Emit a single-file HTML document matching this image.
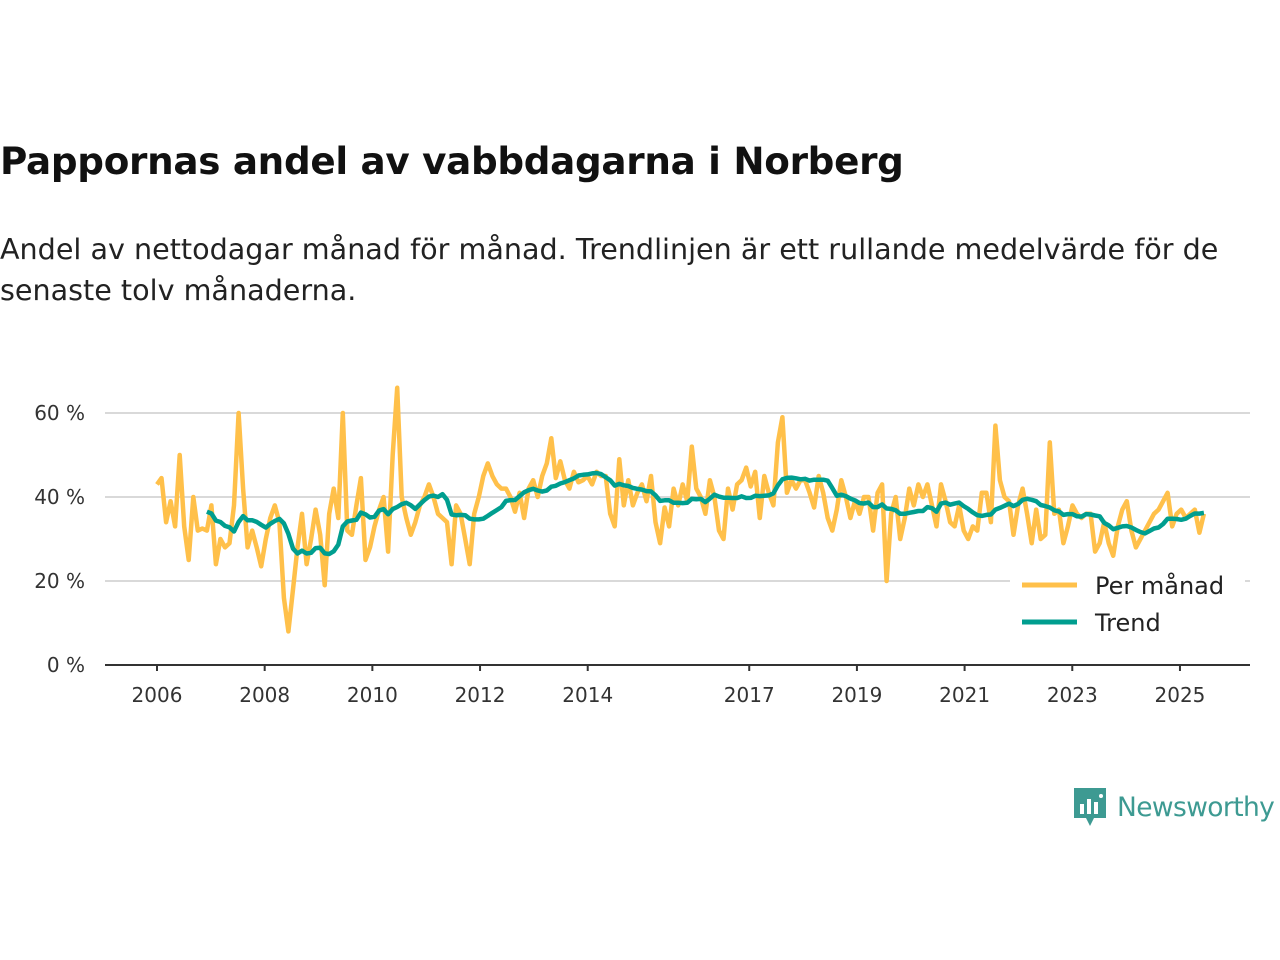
<!DOCTYPE html>
<html><head><meta charset="utf-8">
<style>
body{margin:0;width:1280px;height:960px;background:#fff;font-family:"Liberation Sans","DejaVu Sans",sans-serif;overflow:hidden;position:relative}
h1{position:absolute;left:0;top:139px;margin:0;font-size:37.3px;font-weight:bold;color:#111;font-family:"DejaVu Sans","Liberation Sans",sans-serif;letter-spacing:-0.3px}
.sub{position:absolute;left:0;top:229px;margin:0;font-size:28.6px;line-height:41px;color:#222;font-family:"DejaVu Sans","Liberation Sans",sans-serif;width:1270px}
</style></head><body>
<h1>Pappornas andel av vabbdagarna i Norberg</h1>
<p class="sub">Andel av nettodagar månad för månad. Trendlinjen är ett rullande medelvärde för de senaste tolv månaderna.</p>
<svg id="chart" width="1280" height="960" style="position:absolute;left:0;top:0" font-family="DejaVu Sans, Liberation Sans, sans-serif"></svg>
<div style="position:absolute;left:1072px;top:786px;display:flex;align-items:center">
<svg width="36" height="42"><path d="M2 2h32v30H22l-4 8-4-8H2z" fill="#3d9a92"/><rect x="8" y="18" width="4" height="10" fill="#fff"/><rect x="15" y="13" width="4" height="15" fill="#fff"/><rect x="22" y="16" width="4" height="12" fill="#fff"/><circle cx="29" cy="10" r="2" fill="#fff"/></svg>
<span style="font-size:26.5px;color:#3d9a92;font-family:'DejaVu Sans',sans-serif;margin-left:9px;letter-spacing:-0.6px">Newsworthy</span></div>
<script>
const tickYears=[2006,2008,2010,2012,2014,2017,2019,2021,2023,2025];
const yTicks=[0,20,40,60];
const startYear=2006;
const monthly=[
43,44.5,34,39,33,50,33,25,40,32,32.5,32,
38,24,30,28,29,38,60,42,28,32,28,23.5,
30,35,38,34,16,8,18,28,36,24,30,37,
31,19,36,42,35,60,32,31,38,44.5,25,28,
33,37,40,27,50,66,40,35,31,34,38,40,
43,40,36,35,34,24,38,36,30,24,36,40,
45,48,45,43,42,42,40,36.5,41,35,42,44,
40,45,48,54,44.5,48.5,44,42,46,43.5,44,45,
43,46,45,45,36,33,49,38,44,38,41,43,
39,45,34,29,37.5,33,42,38,43,39,52,42,
40,36,44,40,32,30,42,37,43,44,47,42.5,
46,35,45,41,38,53,59,41,44,42,44,44,
41,37.5,45,41,35,32,37,44,40,35,39,36,
40,40,32,41,43,20,36,40,30,35,42,38,
43,40,43,38,33,43,39,34,33,38,32,30,
33,32,41,41,34,57,44,40,39,31,38,42,
36,29,37,30,31,53,36,37,29,33,38,36,
35,36,36,27,29,34,29,26,33,37,39,32,
28,30,32,34,36,37,39,41,33,36,37,35,
36,37,31.5,36];
const svg=document.getElementById('chart');
const NS='http://www.w3.org/2000/svg';
const xS=y=>157+(y-2006)*53.84;
const yS=v=>665-v*4.2;
function mk(t,a,p){const e=document.createElementNS(NS,t);for(const k in a)e.setAttribute(k,a[k]);(p||svg).appendChild(e);return e;}
yTicks.forEach(v=>{
 if(v>0){const g=mk('line',{x1:105,x2:1250,y1:yS(v),y2:yS(v),stroke:'#d9d9d9','stroke-width':2});
 
 }
 const t=mk('text',{x:85,y:yS(v)+7,'text-anchor':'end','font-size':20,fill:'#333'});t.textContent=v+' %';
 
 
});
const ax=mk('line',{x1:105,x2:1250,y1:665,y2:665,stroke:'#333','stroke-width':2});


tickYears.forEach(y=>{
 const tk=mk('line',{x1:xS(y),x2:xS(y),y1:665,y2:671,stroke:'#333','stroke-width':2});
 
 
 const t=mk('text',{x:xS(y),y:702,'text-anchor':'middle','font-size':20,fill:'#333'});t.textContent=y;
 
 
});
const mx=i=>xS(startYear+i/11.88);
const p1=monthly.map((v,i)=>(i?'L':'M')+mx(i).toFixed(1)+' '+yS(v).toFixed(1)).join(' ');
const l1=mk('path',{d:p1,fill:'none',stroke:'#ffc04a','stroke-width':4.5,'stroke-linejoin':'round'});


let pts=[];
for(let i=11;i<monthly.length;i++){let s=0;for(let j=i-11;j<=i;j++)s+=monthly[j];pts.push((pts.length?'L':'M')+mx(i).toFixed(1)+' '+yS(s/12).toFixed(1));}
const l2=mk('path',{d:pts.join(' '),fill:'none',stroke:'#009e8f','stroke-width':4.5,'stroke-linejoin':'round'});


[['Per månad','#ffc04a',585],['Trend','#009e8f',622]].forEach(([n,c,y])=>{
 const g=mk('g',{});
 
 
 mk('rect',{x:1010,y:y-18,width:235,height:36,fill:'#fff'},g);
 mk('line',{x1:1022,x2:1077,y1:y,y2:y,stroke:c,'stroke-width':5},g);
 const t=mk('text',{x:1095,y:y+9,'font-size':24,fill:'#222'},g);t.textContent=n;
});
</script>
</body></html>
